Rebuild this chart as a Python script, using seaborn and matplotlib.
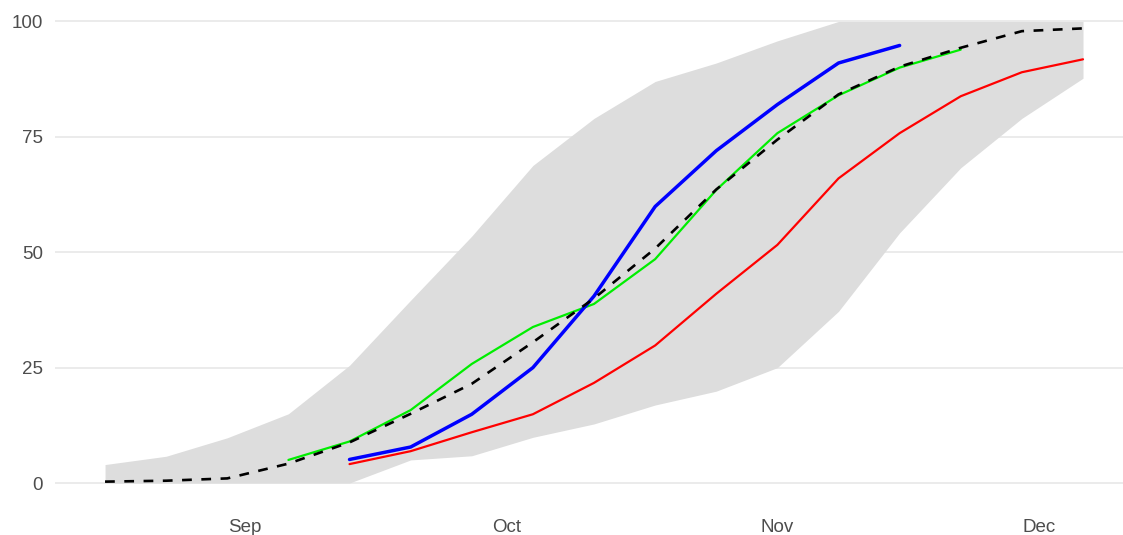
import numpy as np
import pandas as pd
import matplotlib
matplotlib.use("Agg")
import matplotlib.pyplot as plt
import matplotlib.dates as mdates
import seaborn as sns

# Weekly observation dates
dates = pd.date_range("2021-08-16", periods=17, freq="7D")

# Historical envelope and average (percent complete)
hist_mean = [0.3, 0.5, 1.0, 4.2, 8.8, 15.0, 21.5, 30.5, 40.0, 50.8, 63.6, 74.4, 84.2, 90.2, 94.3, 97.9, 98.5]
hist_max = [4.0, 5.8, 9.8, 15.0, 25.5, 39.6, 53.5, 68.8, 79.0, 87.0, 91.0, 95.8, 100, 100, 100, 100, 100]
hist_min = [0, 0, 0, 0, 0, 5.0, 5.9, 9.9, 12.8, 16.9, 19.9, 25.0, 37.2, 54.2, 68.3, 79.0, 87.7]

# Individual seasons
green_vals = [5.0, 9.0, 15.8, 25.8, 33.8, 38.8, 48.5, 63.5, 75.8, 84.0, 90.0, 93.9]
green_dates = dates[3:15]
blue_vals = [5.1, 7.8, 14.9, 25.0, 40.5, 59.9, 72.0, 82.0, 91.0, 94.8]
blue_dates = dates[4:14]
red_vals = [4.1, 6.9, 11.0, 14.9, 21.7, 29.8, 41.0, 51.6, 66.0, 75.8, 83.8, 89.0, 91.8]
red_dates = dates[4:17]

y_ticks = [0, 25, 50, 75, 100]

sns.set_theme(style="white")
plt.rcParams["font.family"] = ["Liberation Sans", "DejaVu Sans"]

W, H = 1123, 535
fig = plt.figure(figsize=(W / 100, H / 100), dpi=100)
ax = fig.add_axes([55 / W, 29 / H, (W - 55) / W, 506 / H])

ax.fill_between(dates, hist_min, hist_max, color="#dddddd", lw=0, zorder=1)

sns.lineplot(x=red_dates, y=red_vals, ax=ax, color="#ff0000", lw=1.6, zorder=3)
sns.lineplot(x=green_dates, y=green_vals, ax=ax, color="#00ee00", lw=1.6, zorder=3)
sns.lineplot(x=blue_dates, y=blue_vals, ax=ax, color="#0000ff", lw=2.5, zorder=4)
sns.lineplot(x=dates, y=hist_mean, ax=ax, color="black", lw=1.9,
             linestyle=(0, (3.7, 3.6)), zorder=5)

ax.set_ylim(-4.98, 104.65)
x0 = dates[0] - pd.Timedelta(days=5.73)
x1 = dates[-1] + pd.Timedelta(days=4.58)
ax.set_xlim(x0, x1)

ax.set_yticks(y_ticks)
ax.set_yticklabels([str(v) for v in y_ticks])
ax.xaxis.set_major_locator(mdates.MonthLocator())
ax.xaxis.set_major_formatter(mdates.DateFormatter("%b"))

ax.grid(axis="y", color="#ebebeb", lw=1.4, zorder=0)
ax.grid(axis="x", visible=False)
ax.set_axisbelow(True)
for s in ax.spines.values():
    s.set_visible(False)

ax.tick_params(axis="both", length=0, labelsize=13.5, labelcolor="#4d4d4d")
ax.tick_params(axis="y", pad=8.5)
ax.tick_params(axis="x", pad=9)
ax.set_xlabel("")
ax.set_ylabel("")
ax.set_facecolor("white")

fig.savefig("out.png", dpi=100, facecolor="white")
